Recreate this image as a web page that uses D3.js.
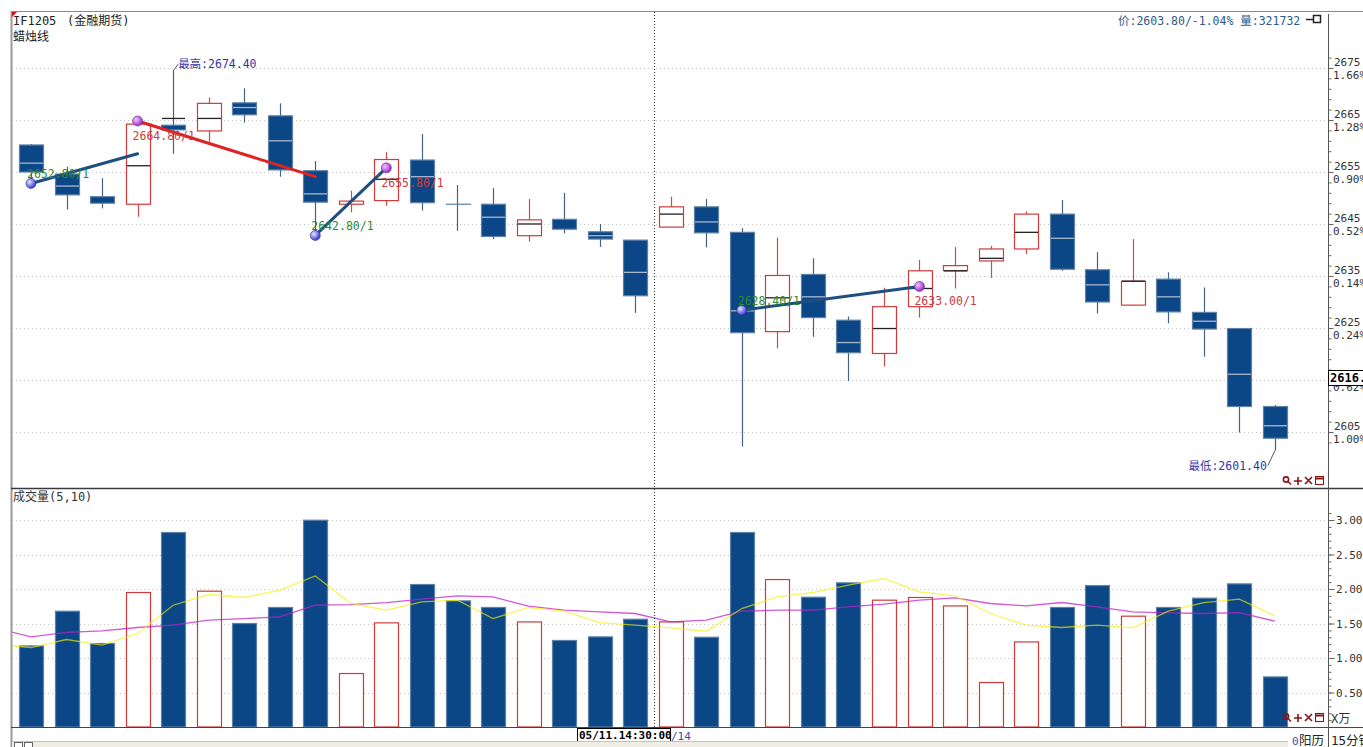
<!DOCTYPE html>
<html><head><meta charset="utf-8">
<script src="https://cdn.jsdelivr.net/npm/d3@7"></script>
<style>
html,body{margin:0;padding:0;background:#fff;overflow:hidden}
svg{display:block}
text{font-family:"DejaVu Sans Mono","Noto Sans CJK SC",monospace;}
</style></head><body>
<svg id="c" width="1363" height="747"></svg>
<script>
// ---------- data ----------
const opens  = [2660.2,2654.6,2650.25,2648.8,2664.0,2662.9,2668.3,2665.8,2655.25,2648.8,2649.5,2657.3,2648.8,2648.8,2642.75,2645.9,2643.5,2641.9,2644.4,2648.3,2643.4,2624.3,2635.3,2626.5,2620.1,2629.1,2636.0,2637.9,2640.2,2646.9,2636.2,2629.4,2634.4,2628.0,2624.9,2609.9];
const closes = [2655.0,2650.6,2649.0,2664.2,2663.1,2668.2,2666.0,2655.4,2649.2,2649.4,2657.4,2649.1,2648.8,2642.6,2645.8,2644.0,2642.1,2631.2,2648.3,2643.3,2624.1,2635.1,2627.0,2620.25,2629.1,2636.0,2637.0,2640.2,2646.9,2636.3,2630.0,2634.0,2628.1,2624.8,2609.9,2603.8];
const highs  = [2660.4,2656.0,2653.8,2664.8,2674.4,2669.3,2671.1,2668.2,2657.1,2651.4,2658.8,2662.3,2652.5,2651.9,2649.8,2651.0,2645.0,2641.9,2650.25,2649.8,2644.2,2642.4,2638.4,2627.2,2632.75,2638.1,2640.6,2640.8,2647.4,2649.6,2639.6,2642.1,2635.7,2632.8,2624.9,2610.2];
const lows   = [2652.8,2647.8,2648.0,2646.4,2658.5,2660.8,2664.5,2654.1,2642.8,2647.25,2648.5,2647.6,2643.7,2642.1,2641.6,2643.2,2640.6,2627.9,2644.4,2640.5,2602.2,2621.1,2623.3,2614.8,2617.6,2627.0,2632.6,2634.6,2639.2,2636.0,2627.8,2629.4,2625.9,2619.5,2604.9,2601.4];
const mids   = [2656.7,2652.3,null,2656.2,2665.3,2665.3,2667.4,2661.0,2650.8,null,2653.6,2654.1,null,2646.3,2645.0,null,2642.75,2635.7,2646.9,2645.4,2628.3,2630.8,2631.0,2622.2,2624.9,2632.6,2636.0,2638.4,2643.4,2642.25,2633.3,2634.0,2631.0,2626.3,2616.1,2606.2];
const volumes = [11750,16780,12100,19490,28190,19680,15000,17320,29970,7750,15090,20650,18280,17320,15230,12540,13060,15620,15230,13010,28190,21370,18810,20890,18380,18770,17550,6450,12330,17320,20500,16060,17320,18670,20740,7260];
// moving averages (first value belongs to the bar just before the visible window)
const volMA5  = [12000,11520,12680,11860,13550,17650,19200,18770,19830,21900,17900,16930,18130,18380,15720,17320,16780,15140,14750,14360,13880,17170,18860,19490,20550,21520,19580,19000,16450,14750,14420,14750,14360,16780,18040,18520,16100];
const volMA10 = [14350,13060,13700,13930,14420,14750,15480,15720,15960,17650,17750,18040,18520,19000,18860,17510,16930,16680,16450,15230,15480,16780,16930,16930,17410,17800,18380,18710,17900,17550,18040,17410,16680,16540,16450,16590,15330];
const priceTicks = [2605,2615,2625,2635,2645,2655,2665,2675];
const pctLabels  = ["1.00%","0.62%","0.24%","0.14%","0.52%","0.90%","1.28%","1.66%"];
const volTicks = [5000,10000,15000,20000,25000,30000];
// trade annotation segments: [i0, p0, i1, p1, colour]
const segments = [[0,2652.8,3,2658.5,"#1d4f80"],[3,2664.8,8,2654.1,"#e02222"],[8,2642.8,10,2655.8,"#1d4f80"],[20,2628.4,25,2633.0,"#1d4f80"]];
const buys  = [[0,2652.8,"2652.80/1"],[8,2642.8,"2642.80/1"],[20,2628.4,"2628.40/1"]];
const sells = [[3,2664.8,"2664.80/1"],[10,2655.8,"2655.80/1"],[25,2633.0,"2633.00/1"]];

// ---------- setup ----------
const svg = d3.select("#c");
const plotL = 12, plotR = 1328;
const x = d3.scaleBand().domain(d3.range(36)).range([13.2,1292.6]).paddingInner(0.33).paddingOuter(0.165);
const bw = x.bandwidth();
const cx = i => x(i) + bw/2;
const step = x.step();
const cxAny = i => cx(0) + i*step;
const y = d3.scaleLinear().domain([2605,2675]).range([432,68]);
const yv = d3.scaleLinear().domain([0,30000]).range([727,520]);

const defs = svg.append("defs");
defs.append("clipPath").attr("id","clipP").append("rect").attr("x",12).attr("y",12).attr("width",plotR-12).attr("height",476);
defs.append("clipPath").attr("id","clipV").append("rect").attr("x",12).attr("y",489).attr("width",plotR-12).attr("height",238);
const gb = defs.append("radialGradient").attr("id","gBuy").attr("cx","35%").attr("cy","35%").attr("r","65%");
gb.append("stop").attr("offset","0%").attr("stop-color","#e6e6ff");
gb.append("stop").attr("offset","100%").attr("stop-color","#3a3ad8");
const gs = defs.append("radialGradient").attr("id","gSell").attr("cx","35%").attr("cy","35%").attr("r","65%");
gs.append("stop").attr("offset","0%").attr("stop-color","#f3c6ff");
gs.append("stop").attr("offset","100%").attr("stop-color","#9a30c8");

// ---------- grid ----------
svg.append("g").selectAll("line").data(priceTicks).join("line")
  .attr("x1",plotL).attr("x2",plotR).attr("y1",d=>Math.round(y(d))+0.5).attr("y2",d=>Math.round(y(d))+0.5)
  .attr("stroke","#c4c4c4").attr("stroke-dasharray","1,3");
svg.append("g").selectAll("line").data(volTicks).join("line")
  .attr("x1",plotL).attr("x2",plotR).attr("y1",d=>Math.round(yv(d))+0.5).attr("y2",d=>Math.round(yv(d))+0.5)
  .attr("stroke","#c4c4c4").attr("stroke-dasharray","1,3");

// ---------- candles ----------
const BLUE="#0b4786", BLUE_S="#5f81a6", BLUE_W="#45627f", RED="#d03a3a", RED_W="#d04a4a";
const isUp = i => closes[i] > opens[i];
const cg = svg.append("g").attr("clip-path","url(#clipP)");
const idx = d3.range(36);
cg.selectAll("line.wick").data(idx).join("line").attr("class","wick")
  .attr("x1",i=>Math.round(cx(i))+0.5).attr("x2",i=>Math.round(cx(i))+0.5)
  .attr("y1",i=>y(highs[i])).attr("y2",i=>y(lows[i]))
  .attr("stroke",i=>isUp(i)?RED_W:BLUE_W).attr("stroke-width",1.2);
cg.selectAll("rect.body").data(idx).join("rect").attr("class","body")
  .attr("x",i=>Math.round(x(i))+0.5).attr("width",Math.round(bw))
  .attr("y",i=>y(Math.max(opens[i],closes[i])))
  .attr("height",i=>Math.max(Math.abs(y(opens[i])-y(closes[i])),0.01))
  .attr("fill",i=>isUp(i)?"#fff":BLUE)
  .attr("stroke",i=>isUp(i)?RED:BLUE_S).attr("stroke-width",1.2);
cg.selectAll("line.mid").data(idx.filter(i=>mids[i]!==null)).join("line").attr("class","mid")
  .attr("x1",i=>Math.round(x(i))+1).attr("x2",i=>Math.round(x(i))+Math.round(bw))
  .attr("y1",i=>y(mids[i])).attr("y2",i=>y(mids[i]))
  .attr("stroke",i=>{
    const inBody = mids[i] < Math.max(opens[i],closes[i]) && mids[i] > Math.min(opens[i],closes[i]);
    return (!isUp(i) && inBody) ? "#a8b8cc" : "#222";
  }).attr("stroke-width",1.3);

// annotation segments
cg.selectAll("line.seg").data(segments).join("line").attr("class","seg")
  .attr("x1",d=>cx(d[0])).attr("y1",d=>y(d[1])).attr("x2",d=>cx(d[2])).attr("y2",d=>y(d[3]))
  .attr("stroke",d=>d[4]).attr("stroke-width",3).attr("stroke-linecap","round");
cg.selectAll("text.bl").data(buys).join("text").attr("class","bl")
  .attr("x",d=>cx(d[0])-4).attr("y",d=>y(d[1])-5).attr("font-size",11.5).attr("fill","#2c8a2c").text(d=>d[2]);
cg.selectAll("text.sl").data(sells).join("text").attr("class","sl")
  .attr("x",d=>cx(d[0])-5).attr("y",d=>y(d[1])+19).attr("font-size",11.5).attr("fill","#cc3b3b").text(d=>d[2]);
cg.selectAll("circle.b").data(buys).join("circle").attr("class","b")
  .attr("cx",d=>cx(d[0])).attr("cy",d=>y(d[1])).attr("r",5).attr("fill","url(#gBuy)").attr("stroke","#2a2a8a").attr("stroke-width",0.6);
cg.selectAll("circle.s").data(sells).join("circle").attr("class","s")
  .attr("cx",d=>cx(d[0])).attr("cy",d=>y(d[1])).attr("r",5).attr("fill","url(#gSell)").attr("stroke","#6a2090").attr("stroke-width",0.6);

// high / low labels
const hiI = d3.maxIndex(highs), loI = d3.minIndex(lows);
cg.append("path").attr("d",`M${cx(hiI)},${y(highs[hiI])}L${cx(hiI)+5},${y(highs[hiI])-7}`).attr("stroke","#555").attr("fill","none");
cg.append("text").attr("x",cx(hiI)+5).attr("y",y(highs[hiI])-3).attr("font-size",11.5).attr("fill","#3535a5").text("最高:"+highs[hiI].toFixed(2));
cg.append("path").attr("d",`M${cx(loI)},${y(lows[loI])}L${cx(loI)-7},${y(lows[loI])+15}`).attr("stroke","#555").attr("fill","none");
cg.append("text").attr("x",cx(loI)-8).attr("y",y(lows[loI])+19).attr("text-anchor","end").attr("font-size",11.5).attr("fill","#3535a5").text("最低:"+lows[loI].toFixed(2));

// ---------- volume ----------
const vg = svg.append("g").attr("clip-path","url(#clipV)");
vg.selectAll("rect").data(idx).join("rect")
  .attr("x",i=>Math.round(x(i))+0.5).attr("width",Math.round(bw))
  .attr("y",i=>yv(volumes[i])).attr("height",i=>yv(0)-yv(volumes[i]))
  .attr("fill",i=>isUp(i)?"#fff":BLUE).attr("stroke",i=>isUp(i)?RED:BLUE_S).attr("stroke-width",1.2);
const lineGen = d3.line().x((d,k)=>cxAny(k-1)).y(d=>yv(d));
vg.append("path").attr("d",lineGen(volMA10)).attr("fill","none").attr("stroke","#c020c8").attr("stroke-width",1.3).attr("opacity",0.75);
vg.append("path").attr("d",lineGen(volMA5)).attr("fill","none").attr("stroke","#f4f000").attr("stroke-width",1.3).attr("opacity",0.65);

// ---------- frame ----------
const fr = svg.append("g");
fr.append("line").attr("x1",11).attr("x2",1363).attr("y1",11.5).attr("y2",11.5).attr("stroke","#8a8a8a");
fr.append("line").attr("x1",11.5).attr("x2",11.5).attr("y1",11).attr("y2",747).attr("stroke","#9a9a9a").attr("stroke-width",2);
fr.append("line").attr("x1",11).attr("x2",1363).attr("y1",488.5).attr("y2",488.5).attr("stroke","#3a3a3a").attr("stroke-width",1.6);
fr.append("line").attr("x1",11).attr("x2",1363).attr("y1",727.5).attr("y2",727.5).attr("stroke","#444");
fr.append("line").attr("x1",plotR+0.5).attr("x2",plotR+0.5).attr("y1",14).attr("y2",747).attr("stroke","#555");
fr.append("path").attr("d","M12,12L17,12L12,17Z").attr("fill","#d01010");
// crosshair
fr.append("line").attr("x1",654.5).attr("x2",654.5).attr("y1",12).attr("y2",740).attr("stroke","#333").attr("stroke-dasharray","1,2");

// ---------- axes ----------
const pa = svg.append("g").attr("transform",`translate(${plotR+0.5},0)`);
pa.call(d3.axisRight(y).tickValues(d3.range(2603,2679,2)).tickSize(3).tickFormat(""));
pa.append("g").call(d3.axisRight(y).tickValues(priceTicks).tickSize(5).tickFormat(""));
pa.selectAll("path.domain").remove();
pa.selectAll("line").attr("stroke","#666");
const pl = svg.append("g");
pl.selectAll("text.p").data(priceTicks).join("text").attr("class","p")
  .attr("x",1334).attr("y",d=>y(d)-2).attr("font-size",11).attr("fill","#333").text(d=>d);
pl.selectAll("text.q").data(priceTicks).join("text").attr("class","q")
  .attr("x",1333).attr("y",(d,k)=>y(d)+11).attr("font-size",11).attr("fill","#333").text((d,k)=>pctLabels[k]);
// current value box
pl.append("rect").attr("x",1328.5).attr("y",370.5).attr("width",36).attr("height",15).attr("fill","#fff").attr("stroke","#000");
pl.append("text").attr("x",1330).attr("y",382).attr("font-size",12).attr("font-weight","bold").attr("fill","#000").text("2616.00");

const va = svg.append("g").attr("transform",`translate(${plotR+0.5},0)`);
va.call(d3.axisRight(yv).tickValues(d3.range(1000,32000,1000)).tickSize(3).tickFormat(""));
va.append("g").call(d3.axisRight(yv).tickValues(volTicks).tickSize(6).tickFormat(""));
va.selectAll("path.domain").remove();
va.selectAll("line").attr("stroke","#666");
svg.append("g").selectAll("text").data(volTicks).join("text")
  .attr("x",1336).attr("y",d=>yv(d)+4).attr("font-size",11).attr("fill","#333").text(d=>(d/10000).toFixed(3));
svg.append("text").attr("x",1331).attr("y",723).attr("font-size",12).attr("fill","#333").text("X万");

// ---------- texts ----------
svg.append("text").attr("x",13).attr("y",25).attr("font-size",12).attr("fill","#222").text("IF1205");
svg.append("text").attr("x",67).attr("y",25).attr("font-size",12).attr("fill","#222").text("(金融期货)");
svg.append("text").attr("x",13).attr("y",41).attr("font-size",12).attr("fill","#222").text("蜡烛线");
svg.append("text").attr("x",13).attr("y",501).attr("font-size",12).attr("fill","#333").text("成交量(5,10)");
svg.append("text").attr("x",1118).attr("y",25).attr("font-size",11.5).attr("fill","#2f5a88").text("价:2603.80/-1.04% 量:321732");
// pin icon
svg.append("line").attr("x1",1306).attr("x2",1313).attr("y1",19.5).attr("y2",19.5).attr("stroke","#222").attr("stroke-width",1.5);
svg.append("rect").attr("x",1313.5).attr("y",15.5).attr("width",7).attr("height",7).attr("fill","#fff").attr("stroke","#222").attr("stroke-width",1.5);

// small tool icons
function tools(yc){
  const g = svg.append("g").attr("stroke","#8b1515").attr("fill","none").attr("stroke-width",1.6);
  g.append("circle").attr("cx",1286).attr("cy",yc-1.5).attr("r",2.6);
  g.append("line").attr("x1",1288).attr("y1",yc+0.5).attr("x2",1291).attr("y2",yc+3.5);
  g.append("path").attr("d",`M1294,${yc}h8M1298,${yc-4}v8`);
  g.append("path").attr("d",`M1305,${yc-4}l7,7M1312,${yc-4}l-7,7`);
  g.append("rect").attr("x",1315.5).attr("y",yc-4.5).attr("width",8).attr("height",8).attr("stroke-width",1.1);
  g.append("line").attr("x1",1315.5).attr("x2",1323.5).attr("y1",yc-2.5).attr("y2",yc-2.5).attr("stroke-width",2);
}
tools(481); tools(718);

// time label
svg.append("rect").attr("x",577.5).attr("y",728.5).attr("width",93).attr("height",13).attr("fill","#fff").attr("stroke","#000");
svg.append("text").attr("x",579).attr("y",739).attr("font-size",11).attr("font-weight","bold").attr("fill","#000").text("05/11.14:30:00");
svg.append("text").attr("x",671).attr("y",740).attr("font-size",11).attr("fill","#3a4fb0").text("/14");

// status bar
svg.append("rect").attr("x",12).attr("y",741).attr("width",1276).attr("height",6).attr("fill","#efede4");
svg.append("line").attr("x1",12).attr("x2",1288).attr("y1",741.5).attr("y2",741.5).attr("stroke","#c8c4b0");
svg.append("rect").attr("x",14.5).attr("y",742.5).attr("width",8).attr("height",6).attr("fill","#fff").attr("stroke","#666");
svg.append("rect").attr("x",24.5).attr("y",742.5).attr("width",8).attr("height",6).attr("fill","#fff").attr("stroke","#666");
svg.append("text").attr("x",1292).attr("y",745).attr("font-size",11).attr("fill","#3a4fb0").text("0");
svg.append("text").attr("x",1299).attr("y",745).attr("font-size",12.5).attr("fill","#222").text("阳历");
svg.append("text").attr("x",1331).attr("y",745).attr("font-size",12.5).attr("fill","#222").text("15分钟");
</script>
</body></html>
